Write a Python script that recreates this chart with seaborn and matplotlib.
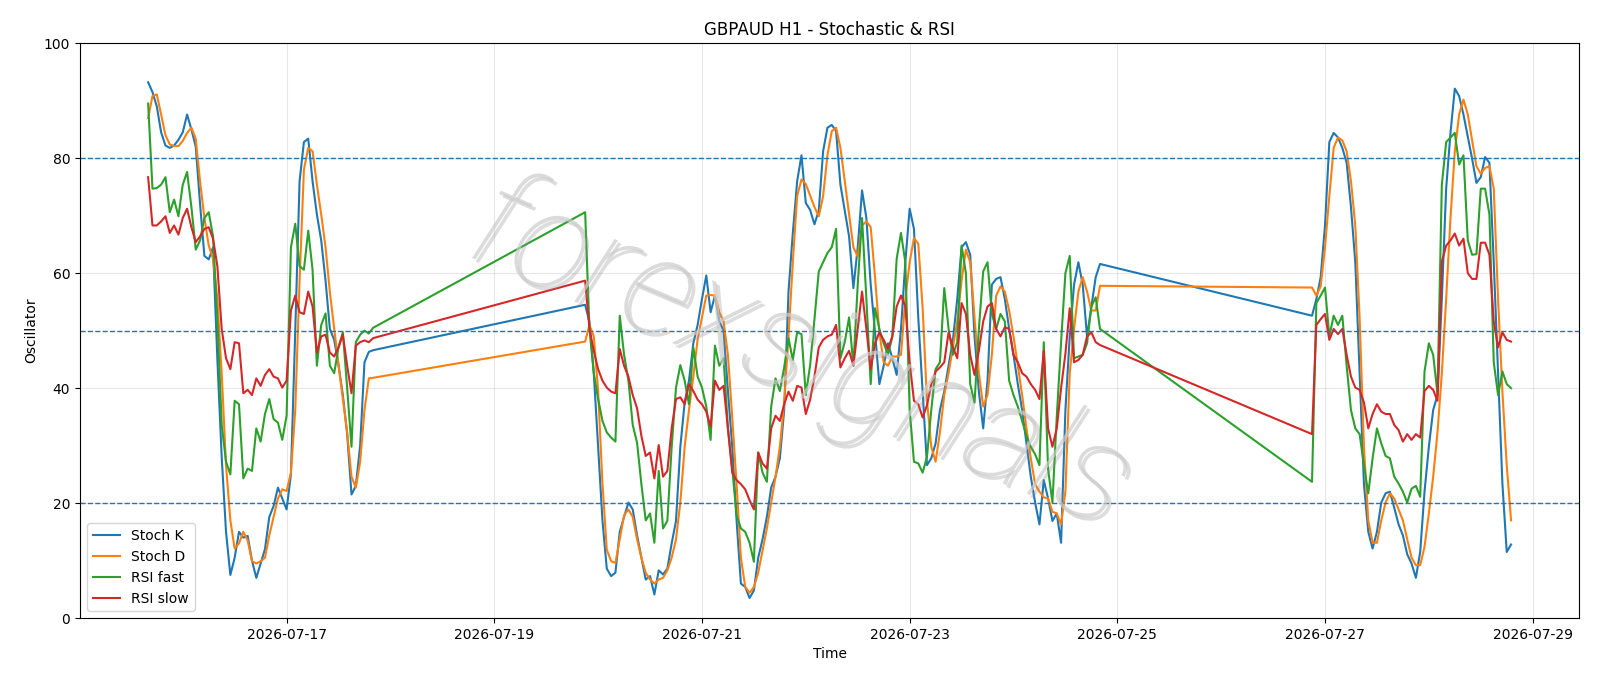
import pandas as pd
import matplotlib
matplotlib.use("Agg")
import matplotlib.pyplot as plt
import matplotlib.dates as mdates
import matplotlib.patheffects as pe
import seaborn as sns

# Hourly sessions (weekend gaps between them)
sessions = [
    ("2026-07-15 16:00", "2026-07-17 20:00"),
    ("2026-07-19 21:00", "2026-07-24 20:00"),
    ("2026-07-26 21:00", "2026-07-28 19:00"),
]

stoch_k = [
    # session 1
    93.2, 91.5, 89, 84.5, 82.2, 81.8, 82.2, 83.2, 84.5, 87.6, 85, 82, 72, 63, 62.4, 64.5, 45, 28,
    15, 7.5, 10.5, 15, 14, 14.3, 10, 7, 9.5, 12, 17.6, 19.5, 22.7, 20.8, 18.9, 25, 50, 76, 82.8,
    83.4, 76, 70.2, 65.7, 58.7, 50.3, 48.4, 44, 38.8, 32, 21.5, 23, 30, 44.5, 46.3, 46.6,
    # session 2
    54.5, 51.5, 42.6, 29.8, 17, 8.6, 7.3, 7.9, 15, 17.6, 20.1, 18.9, 14.4, 10.5, 6.7, 7.3, 4.1,
    8.3, 7.6, 8.6, 13, 16.9, 29.8, 37.5, 41.3, 47.8, 51, 55.5, 59.6, 53.2, 56.1, 51.6, 50, 39.5,
    29.8, 17, 6, 5.4, 3.5, 4.8, 10.5, 13.7, 17.6, 22.7, 24.6, 27.8, 36.2, 56.8, 67, 76, 80.5,
    72.2, 71, 68.5, 70.9, 81.2, 85.3, 85.8, 84.7, 75.4, 70.9, 66.4, 57.4, 64.5, 74.4, 69.6, 58,
    49.7, 40.7, 43.9, 47.8, 45.2, 42.3, 50.3, 61.9, 71.2, 67.7, 52.2, 39.4, 26.6, 27.8, 30.4,
    36.2, 39.4, 43.9, 48.4, 55.5, 64.5, 65.4, 63.2, 49, 39.4, 33, 41.3, 58, 59, 59.3, 55.5, 50.3,
    45.8, 40.7, 36.2, 30.4, 24.6, 20.1, 16.3, 24, 20.8, 16.9, 18.2, 13.1, 36.2, 49, 58, 61.9, 58,
    49, 54.2, 59.3, 61.6,
    # session 3
    52.6, 55.5, 59.3, 68.3, 82.8, 84.4, 83.6, 81.8, 79.2, 71.5, 61.9, 42.6, 23.3, 15, 12.1, 15,
    20.1, 21.7, 22, 19.2, 16.3, 14.4, 11.1, 9.5, 7, 11.5, 22, 29.8, 36.2, 38.8, 55.5, 74.7, 84.4,
    92.1, 90.8, 87.6, 83.7, 79.9, 75.7, 76.7, 80.2, 79.2, 61.9, 42.6, 23.4, 11.5, 12.8,
]

stoch_d = [
    # session 1
    87, 90.8, 91.1, 87.6, 84, 82.4, 82.1, 82.1, 83, 84.4, 85.3, 83.4, 76, 69.6, 64.8, 62.5, 55.5,
    42.6, 26.6, 17, 12.1, 13, 15, 13.5, 9.9, 9.5, 9.9, 10.5, 14.4, 17.6, 20.8, 22.4, 22.1, 25.3,
    36.2, 58.7, 78, 81.8, 81.2, 75.4, 70.2, 64.5, 56.7, 50.3, 44, 38.1, 32.3, 24.6, 22.7, 27.2,
    36.2, 41.7, 41.8,
    # session 2
    48.1, 51, 49, 39.5, 23.5, 11.9, 9.9, 9.6, 13.7, 17.9, 18.9, 17.6, 13.7, 10.5, 7.9, 6.7, 6,
    6.7, 7, 8.3, 10.5, 13.7, 20.1, 29.8, 36.2, 42, 48.5, 52.3, 56.1, 56.2, 56.1, 53.2, 51.6,
    45.8, 34.9, 23.3, 10.5, 5.4, 4.4, 5.4, 7.9, 11.8, 15.6, 20.1, 24.6, 29.8, 37.5, 49, 61.9,
    73.4, 76.3, 75.5, 73.5, 71.5, 69.9, 73.4, 80.5, 84.7, 85.3, 81.8, 76, 70.2, 64.5, 62.9,
    68.3, 69, 68, 59.3, 49.7, 44.5, 43.9, 45.5, 45.5, 45.8, 55.5, 61.9, 66.1, 65.1, 54, 38,
    29.8, 27.2, 32.3, 38.8, 42.6, 47.1, 51.6, 58.7, 64.1, 61.9, 52.3, 42.6, 36.8, 38.8, 45.8,
    56.1, 57.7, 56.8, 53.5, 49, 43.9, 38.8, 33, 27.8, 23.3, 22, 21, 20.8, 18.5, 18.2, 16.3, 22,
    42.6, 50.3, 56.8, 59.3, 56.8, 53.5, 53.5, 57.8,
    # session 3
    57.5, 56.1, 57.7, 64.5, 73.4, 81.8, 83.6, 83.1, 81.2, 76, 68.3, 52.2, 29.8, 17, 13.1, 13.1,
    17, 20.1, 21.7, 20.8, 18.9, 17, 13.7, 10.5, 9.2, 9.2, 12.4, 18.2, 24.6, 32.3, 42.6, 55.5,
    69.6, 81.2, 87.6, 90.2, 87.6, 83.1, 78.6, 77.3, 78.3, 78.6, 74.7, 55.5, 39.4, 26.6, 17,
]

rsi_fast = [
    # session 1
    89.5, 74.7, 74.8, 75.4, 76.7, 70.6, 72.8, 69.9, 75.4, 77.6, 71.5, 64.1, 65.7, 69.6, 70.6,
    66.4, 52, 33.6, 27.2, 25, 37.8, 37.2, 24.3, 26, 25.6, 33, 30.7, 35.5, 38.1, 34.6, 34, 31,
    35.2, 64.5, 68.6, 61.2, 60.6, 67.4, 60.6, 43.9, 51, 53, 43.9, 42.6, 47.1, 49.7, 40, 29.8,
    48, 49.3, 50, 49.5, 50.5,
    # session 2
    70.6, 50.3, 42.6, 38.1, 34.3, 32.3, 31.4, 30.7, 52.6, 45.8, 41.3, 33.6, 30.5, 23.3, 17,
    18.2, 13.1, 25.6, 15.6, 16.9, 29.8, 40.1, 44, 41.3, 37.2, 47.1, 42, 40.1, 36.8, 31, 47.4,
    43.9, 45.2, 33, 26, 17.9, 15.6, 15, 13.1, 9.8, 28.8, 25.3, 23.7, 36.8, 41.7, 39.5, 43.6,
    48.7, 44.9, 49.7, 49.4, 38.8, 44, 52, 60.3, 61.9, 63.5, 64.5, 67.7, 45.2, 48, 52.3, 43.9,
    58, 69.6, 55.5, 40.7, 53.9, 50.3, 47.8, 45.8, 49, 62.5, 67, 61.9, 36.2, 27.2, 26.9, 25.3,
    28, 36.2, 43.3, 44.5, 57.4, 50.3, 45.8, 48, 64.8, 60, 40.7, 37.5, 50.3, 60.3, 61.9, 52.9,
    50.3, 52.9, 51.6, 41.3, 38.8, 36.8, 34.3, 31.7, 29.8, 28.5, 26.6, 48, 25.9, 20.1, 35, 48,
    60, 63, 45.2, 45.5, 45.8, 47.8, 54.2, 55.8, 50.3,
    # session 3
    23.7, 54.8, 56.1, 57.5, 49, 52.6, 51, 52.6, 43.9, 36.2, 33, 32, 26.6, 21.7, 27.8, 33, 30.4,
    28.2, 27.8, 24.6, 23.4, 22, 20.1, 22.5, 23, 21.1, 42.9, 47.8, 45.8, 39, 75.4, 82.8, 83.6,
    84.4, 78.9, 80.5, 65.7, 63.2, 63.3, 74.7, 74.7, 70.2, 44.5, 38.8, 42.9, 40.7, 40,
]

rsi_slow = [
    # session 1
    76.7, 68.3, 68.3, 69, 69.9, 67, 68.3, 66.7, 69.6, 71.2, 68, 65.4, 66.4, 67.7, 68, 66, 61.2,
    50.3, 45.2, 43.3, 48, 47.8, 39.1, 39.7, 38.8, 41.7, 40.4, 42.3, 43.3, 42, 41.7, 40.1, 41.3,
    53.5, 56.1, 53.2, 52.9, 56.8, 54.2, 46.2, 49, 49.3, 46.2, 45.5, 47.1, 49.3, 43.9, 39.1,
    47.4, 48, 48.3, 48, 48.7,
    # session 2
    58.7, 50.3, 46.5, 43.3, 41.3, 40.1, 39.4, 39.1, 46.8, 43.9, 42, 38.8, 36.5, 31.7, 28.2,
    28.8, 24.3, 30.1, 24.6, 25.6, 33, 38.1, 38.4, 37.2, 40.7, 39.5, 38, 37.2, 35.9, 33.3, 41.3,
    39.7, 40.4, 33, 25.3, 24, 23.3, 22.4, 20.5, 18.9, 28.8, 26.9, 26, 33, 35.2, 34.3, 37.2,
    39.4, 37.8, 40.4, 40.1, 35.5, 38, 42, 47.1, 48.4, 49, 49.3, 51, 43.6, 45.2, 46.5, 43.9,
    50.3, 56.8, 50.3, 43.3, 47.8, 49.7, 48.4, 46.8, 49, 54.2, 56.1, 54.2, 44.5, 37.8, 37.2,
    34.9, 37, 40.7, 42.9, 43.6, 44.5, 49.7, 47.1, 45.2, 54.8, 52.9, 45.8, 42.3, 46.5, 51.6,
    54.2, 54.8, 50.3, 49, 50.6, 50.3, 45.8, 44.5, 42.6, 42, 40.7, 39.7, 38.1, 46.5, 33, 29.8,
    33, 40, 46, 53.9, 44.5, 44.9, 45.8, 49, 49.7, 48, 47.5,
    # session 3
    32, 51, 52, 52.9, 48.4, 50.3, 49.4, 50.3, 45.8, 42, 40.1, 39.7, 37.5, 33, 35.5, 37.2, 35.9,
    35.5, 35.5, 33.6, 32.7, 30.7, 32, 31, 32, 31.4, 39.5, 40.4, 39.7, 37.8, 62, 64.8, 65.7,
    66.9, 64.8, 66, 60, 59, 59, 65.3, 65.3, 63.2, 51.6, 47.1, 49.7, 48.4, 48.1,
]

series_labels = ["Stoch K", "Stoch D", "RSI fast", "RSI slow"]
levels = [80, 50, 20]


def main():
    times = pd.DatetimeIndex([])
    for start, end in sessions:
        times = times.append(pd.date_range(start, end, freq="h"))

    df = pd.DataFrame({"time": times, "Stoch K": stoch_k, "Stoch D": stoch_d,
                       "RSI fast": rsi_fast, "RSI slow": rsi_slow})

    fig, ax = plt.subplots(figsize=(16, 6.86), dpi=100)
    for name in series_labels:
        sns.lineplot(data=df, x="time", y=name, label=name, ax=ax, linewidth=1.5)

    for lvl in levels:
        ax.axhline(lvl, linestyle="--", linewidth=1, color="C0")

    ax.set_ylim(0, 100)
    ax.grid(True, alpha=0.3)
    ax.xaxis.set_major_locator(mdates.DayLocator(bymonthday=range(1, 32, 2)))
    ax.xaxis.set_major_formatter(mdates.DateFormatter("%Y-%m-%d"))
    ax.set_title("GBPAUD H1 - Stochastic & RSI")
    ax.set_xlabel("Time")
    ax.set_ylabel("Oscillator")
    ax.legend(loc="lower left")

    # watermark
    ax.text(0.481, 0.455, "forexsignals", transform=ax.transAxes, fontsize=100,
            family=["Roboto", "DejaVu Sans"], weight="light", style="italic",
            color="#cccccc", alpha=0.7, rotation=-23,
            ha="center", va="center", zorder=10,
            path_effects=[pe.SimplePatchShadow(offset=(2.5, -2.5), shadow_rgbFace="#8f8f8f", alpha=0.3),
                          pe.Normal()])

    fig.subplots_adjust(left=0.05, right=0.987, top=0.937, bottom=0.099)
    fig.savefig("out.png")
    plt.close(fig)


if __name__ == "__main__":
    main()
